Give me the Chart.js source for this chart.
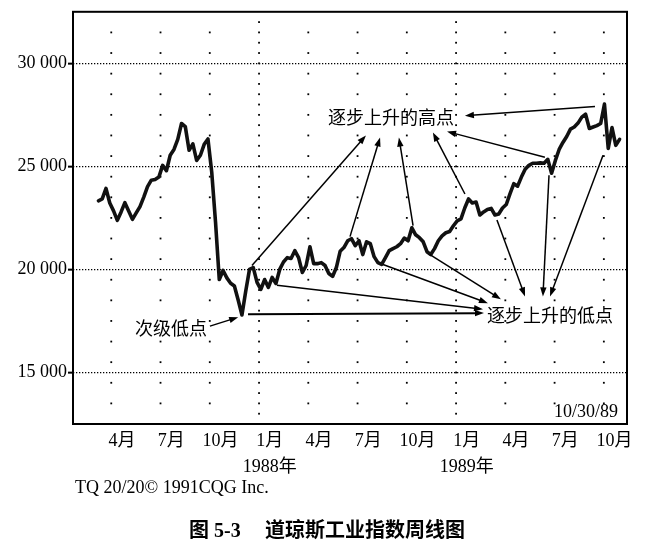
<!DOCTYPE html>
<html>
<head>
<meta charset="utf-8">
<title>道琼斯工业指数周线图</title>
<script src="https://cdn.jsdelivr.net/npm/chart.js@4.4.0/dist/chart.umd.min.js"></script>
<style>
  html, body { margin: 0; padding: 0; background: #fff; }
  #wrap { position: relative; width: 648px; height: 555px; }
</style>
</head>
<body>
<div id="wrap"><canvas id="dowChart"></canvas></div>
<script>
// x axis unit: months after 1 Jan 1987; one point per week
const firstWeek = 2.22;
const weekStep = 7 / 30.4375;

// weekly closes, early Mar 1987 .. 10/30/89
const weeklyClose = [
  23330, 23420, 23930, 23220, 22840, 22380, 22790, 23240, 22840, 22430,
  22740, 23050, 23510, 24020, 24330, 24360, 24480, 25050, 24790, 25540,
  25820, 26310, 27080, 26930, 25780, 26090, 25290, 25540, 26070, 26330,
  24720, 22310, 19510, 19950, 19590, 19330, 19200, 18520, 17790, 18940,
  20000, 20090, 19370, 19030, 19510, 19130, 19610, 19320, 20000, 20360,
  20570, 20530, 20910, 20570, 19850, 20190, 21100, 20280, 20280, 20330,
  20190, 19800, 19660, 20090, 20880, 21060, 21390, 21490, 21150, 21390,
  20720, 21340, 21250, 20620, 20330, 20240, 20570, 20910, 21010, 21100,
  21250, 21520, 21390, 22020, 21680, 21540, 21340, 20860, 20720, 21010,
  21390, 21630, 21780, 21840, 22120, 22360, 22450, 22980, 23420, 23220,
  23270, 22640, 22790, 22910, 22960, 22640, 22690, 22980, 23150, 23680,
  24160, 24040, 24480, 24860, 25050, 25150, 25150, 25170, 25150, 25340,
  24670, 25290, 25820, 26160, 26450, 26810, 26910, 27100, 27390, 27530,
  26840, 26910, 26980, 27080, 28020, 25870, 26880, 26020, 26310
];

const monthTicks = [3, 6, 9, 12, 15, 18, 21, 24, 27, 30, 33];
const monthLabels = ['4月', '7月', '10月', '1月', '4月', '7月', '10月', '1月', '4月', '7月', '10月'];
const yearLabels = { 12: '1988年', 24: '1989年' };
const valueTicks = [15000, 20000, 25000, 30000];

// annotation arrows: [tail, head] in [month, value]
const highArrows = [
  [[11.57, 20190], [18.51, 26500]],
  [[17.54, 21590], [19.37, 26400]],
  [[21.38, 22120], [20.52, 26400]],
  [[24.54, 23660], [22.59, 26640]],
  [[29.41, 25440], [23.45, 26690]],
  [[32.46, 27900], [24.54, 27460]]
];
const lowArrows = [
  [[11.33, 17830], [25.70, 17880]],
  [[13.09, 19230], [25.64, 18070]],
  [[19.55, 20240], [25.94, 18360]],
  [[22.41, 20720], [26.73, 18550]],
  [[26.49, 22400], [28.20, 18690]],
  [[29.66, 24570], [29.29, 18690]],
  [[32.95, 25540], [29.72, 18690]]
];
const secondaryArrow = [[9.01, 17250], [10.73, 17680]];
const notes = [
  { text: '逐步上升的高点', at: [20.04, 27410] },
  { text: '逐步上升的低点', at: [29.72, 17780] },
  { text: '次级低点', at: [6.64, 17150] }
];

const labelShift = 0.65;
const serif = "'Liberation Serif', 'Noto Sans CJK SC', serif";
const cjk = "'Noto Sans CJK SC', sans-serif";

function spaced(v) {
  return String(v).replace(/\B(?=(\d{3})+(?!\d))/g, ' ');
}

function drawArrow(ctx, x1, y1, x2, y2) {
  const a = Math.atan2(y2 - y1, x2 - x1);
  const c = Math.cos(a), s = Math.sin(a);
  const len = 9, half = 3.2;
  ctx.beginPath();
  ctx.moveTo(x1, y1);
  ctx.lineTo(x2 - c * len * 0.7, y2 - s * len * 0.7);
  ctx.stroke();
  ctx.beginPath();
  ctx.moveTo(x2, y2);
  ctx.lineTo(x2 - c * len + s * half, y2 - s * len - c * half);
  ctx.lineTo(x2 - c * len - s * half, y2 - s * len + c * half);
  ctx.closePath();
  ctx.fill();
}

const dotGrid = {
  id: 'dotGrid',
  beforeDatasetsDraw(chart) {
    const { ctx, scales: { x, y } } = chart;
    ctx.save();
    ctx.fillStyle = '#000';
    monthTicks.forEach(m => {
      const px = x.getPixelForValue(m);
      const yearLine = m % 12 === 0;
      const step = yearLine ? 500 : 1000;
      const start = yearLine ? 13000 : 13500;
      for (let v = start; v <= 32000; v += step) {
        const py = y.getPixelForValue(v);
        ctx.fillRect(px - 0.9, py - 0.9, 1.8, 1.8);
      }
    });
    ctx.restore();
  }
};

const frameAndNotes = {
  id: 'frameAndNotes',
  afterDatasetsDraw(chart) {
    const { ctx, chartArea: a, scales: { x, y } } = chart;
    const P = p => [x.getPixelForValue(p[0]), y.getPixelForValue(p[1])];
    ctx.save();
    ctx.strokeStyle = '#000';
    ctx.lineWidth = 2;
    ctx.strokeRect(a.left, a.top, a.right - a.left, a.bottom - a.top);

    ctx.fillStyle = '#000';
    highArrows.concat(lowArrows, [secondaryArrow]).forEach(([t, h], i) => {
      const [x1, y1] = P(t), [x2, y2] = P(h);
      ctx.lineWidth = i === highArrows.length ? 2 : 1.5;
      drawArrow(ctx, x1, y1, x2, y2);
    });

    ctx.font = '18px ' + cjk;
    ctx.textAlign = 'center';
    ctx.textBaseline = 'middle';
    notes.forEach(n => {
      const [px, py] = P(n.at);
      ctx.fillText(n.text, px, py);
    });

    ctx.font = '18px ' + serif;
    ctx.textAlign = 'right';
    ctx.fillText('10/30/89', a.right - 9, a.bottom - 12);
    ctx.restore();
  },
  afterDraw(chart) {
    const { ctx, chartArea: a } = chart;
    ctx.save();
    ctx.fillStyle = '#000';
    ctx.textBaseline = 'middle';
    ctx.textAlign = 'left';
    ctx.font = '18px ' + serif;
    ctx.fillText('TQ 20/20© 1991CQG Inc.', a.left + 2, a.bottom + 64);
    ctx.font = 'bold 20px ' + serif;
    ctx.fillText('图 5-3', 189, 532);
    ctx.fillText('道琼斯工业指数周线图', 265, 532);
    ctx.restore();
  }
};

const ctx = document.getElementById('dowChart').getContext('2d');

new Chart(ctx, {
  type: 'line',
  data: {
    datasets: [{
      data: weeklyClose.map((v, i) => ({ x: firstWeek + i * weekStep, y: v })),
      borderColor: '#111',
      borderWidth: 3.6,
      borderJoinStyle: 'round',
      borderCapStyle: 'round',
      pointRadius: 0,
      tension: 0,
      fill: false
    }]
  },
  options: {
    responsive: true,
    maintainAspectRatio: false,
    animation: false,
    layout: { padding: { left: 0, right: 21, top: 10, bottom: 0 } },
    plugins: {
      legend: { display: false },
      tooltip: { enabled: false }
    },
    scales: {
      x: {
        type: 'linear',
        min: 0.67,
        max: 34.41,
        afterBuildTicks: scale => {
          scale.ticks = monthTicks.map(m => ({ value: m + labelShift }));
        },
        afterFit: scale => { scale.height = 131; },
        ticks: {
          autoSkip: false,
          maxRotation: 0,
          minRotation: 0,
          padding: 5,
          color: '#000',
          font: { family: serif, size: 18, lineHeight: 1.4 },
          callback: (value, index) => {
            const m = monthTicks[index];
            return yearLabels[m] ? [monthLabels[index], yearLabels[m]] : monthLabels[index];
          }
        },
        grid: { display: false, drawTicks: false },
        border: { display: false }
      },
      y: {
        min: 12500,
        max: 32500,
        afterBuildTicks: scale => {
          scale.ticks = valueTicks.map(v => ({ value: v }));
        },
        afterFit: scale => { scale.width = 73; },
        ticks: {
          padding: 1,
          color: '#000',
          font: { family: serif, size: 18 },
          callback: v => spaced(v)
        },
        grid: {
          color: '#000',
          lineWidth: 1.3,
          tickLength: 5,
          tickWidth: 2,
          tickColor: '#000',
          tickBorderDash: []
        },
        border: { display: false, dash: [1.3, 1.7] }
      }
    }
  },
  plugins: [dotGrid, frameAndNotes]
});
</script>
</body>
</html>
